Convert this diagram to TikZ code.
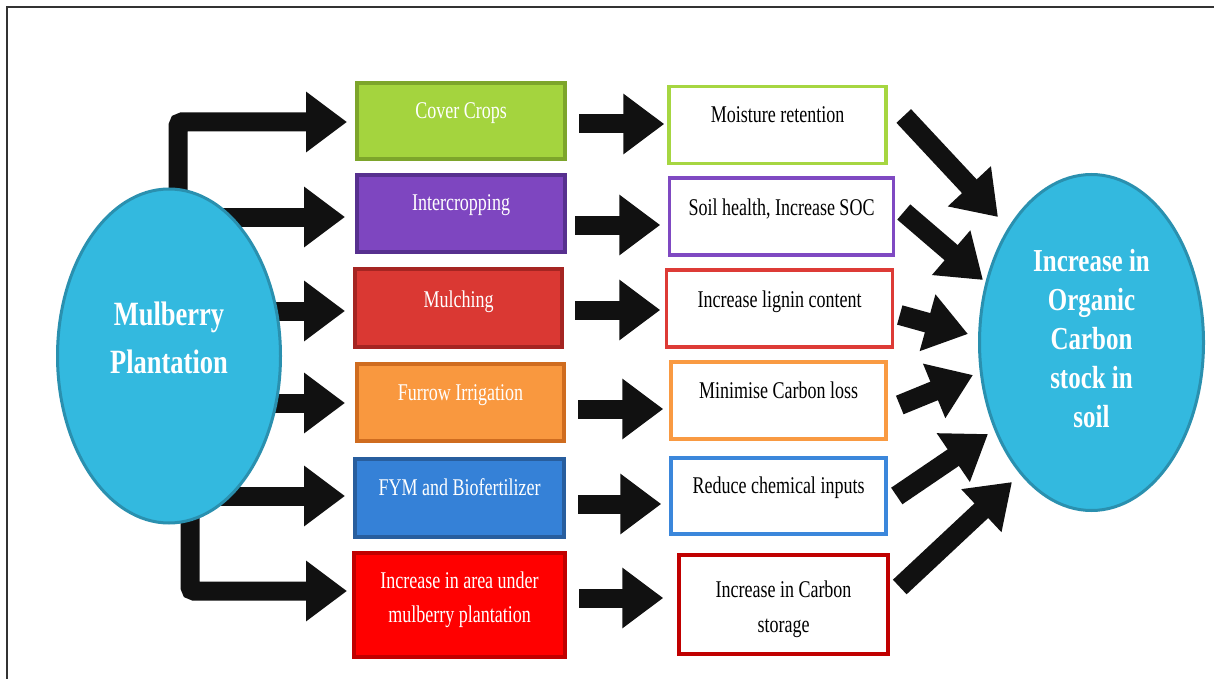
\documentclass[tikz,border=0pt]{standalone}
\usepackage{fontspec}
\newfontfamily\tnr[FakeStretch=0.75]{Liberation Serif}
\newfontfamily\tnrb[FakeStretch=0.78]{Liberation Serif}
\usetikzlibrary{arrows.meta,calc,shapes.geometric}
\pgfdeclarelayer{back}
\pgfdeclarelayer{bg}
\pgfsetlayers{back,bg,main}
\definecolor{ellf}{HTML}{33B9DF}
\definecolor{elld}{HTML}{2A90AF}
\definecolor{cAf}{HTML}{A4D43E}\definecolor{cAd}{HTML}{7DA52B}
\definecolor{cBf}{HTML}{7E46C0}\definecolor{cBd}{HTML}{57308F}
\definecolor{cCf}{HTML}{DA3833}\definecolor{cCd}{HTML}{A52522}
\definecolor{cDf}{HTML}{F9983F}\definecolor{cDd}{HTML}{CF6C1F}
\definecolor{cEf}{HTML}{3581D7}\definecolor{cEd}{HTML}{285E9E}
\definecolor{cFf}{HTML}{FF0000}\definecolor{cFd}{HTML}{C00000}
\definecolor{mA}{HTML}{A6D641}
\definecolor{mB}{HTML}{7F49C2}
\definecolor{mC}{HTML}{DD3B36}
\definecolor{mD}{HTML}{F99A42}
\definecolor{mE}{HTML}{3B87DB}
\definecolor{mF}{HTML}{C00000}
\definecolor{arr}{HTML}{111111}
\definecolor{framec}{HTML}{333333}
\begin{document}
\begin{tikzpicture}[x=1pt,y=-1pt,
  fbox/.style={rectangle, line width=4pt, inner sep=0pt},
  obox/.style={rectangle, line width=3.5pt, inner sep=0pt, fill=white},
  ell/.style={ellipse, fill=ellf, draw=elld, line width=3pt, inner sep=0pt},
  txtone/.style={font=\tnr\fontsize{24}{34.5}\selectfont, text height=16pt, text depth=5pt, inner sep=0pt, anchor=center},
  txttwo/.style={font=\tnr\fontsize{24}{34.5}\selectfont, align=center, inner sep=0pt, anchor=center},
  barrow/.style={draw=arr, line width=19pt, -{Triangle[length=41pt,width=58pt]}},
  darrow/.style={draw=arr, line width=20pt, -{Triangle[length=42pt,width=56pt]}}
]
\useasboundingbox (0,0) rectangle (1214,679);
\begin{pgfonlayer}{back}
\fill[white] (0,0) rectangle (1214,679);
\end{pgfonlayer}
\draw[framec, line width=1.5pt] (7,679) -- (7,7) -- (1214,7);

% ellipses
\node[ell, minimum width=223pt, minimum height=334pt,
  label={[font=\tnrb\bfseries\fontsize{34}{48}\selectfont, text=white, align=center, anchor=center, yshift=18pt]center:{Mulberry\\Plantation}}] (mp) at (169,356) {};
\node[ell, minimum width=224pt, minimum height=336pt,
  label={[font=\tnrb\bfseries\fontsize{32}{39}\selectfont, text=white, align=center, anchor=center, yshift=4pt]center:{Increase in\\Organic\\Carbon\\stock in\\soil}}] (oc) at (1091.5,342.5) {};

% practice boxes
\node[fbox, fill=cAf, draw=cAd, minimum width=208pt, minimum height=76pt,
  label={[txtone, text=white, yshift=8pt]center:{Cover Crops}}] (c1) at (461,121.5) {};
\node[fbox, fill=cBf, draw=cBd, minimum width=208pt, minimum height=76pt,
  label={[txtone, text=white, yshift=9pt]center:{Intercropping}}] (c2) at (461,213.5) {};
\node[fbox, fill=cCf, draw=cCd, minimum width=207pt, minimum height=78pt,
  label={[txtone, text=white, yshift=6.5pt]center:{Mulching}}] (c3) at (458.5,308) {};
\node[fbox, fill=cDf, draw=cDd, minimum width=207pt, minimum height=77pt,
  label={[txtone, text=white, yshift=7.5pt]center:{Furrow Irrigation}}] (c4) at (460.5,402) {};
\node[fbox, fill=cEf, draw=cEd, minimum width=209pt, minimum height=78pt,
  label={[txtone, text=white, yshift=8.5pt]center:{FYM and Biofertilizer}}] (c5) at (459.5,498) {};
\node[fbox, fill=cFf, draw=cFd, minimum width=211pt, minimum height=104pt,
  label={[txttwo, text=white, yshift=4.5pt]center:{Increase in area under\\mulberry plantation}}] (c6) at (459.5,604.5) {};

% effect boxes
\node[obox, draw=mA, minimum width=217pt, minimum height=77pt,
  label={[txtone, text=black, yshift=7.5pt]center:{Moisture retention}}] (m1) at (777.5,125) {};
\node[obox, draw=mB, minimum width=224pt, minimum height=77pt,
  label={[txtone, text=black, yshift=7pt]center:{Soil health, Increase SOC}}] (m2) at (781.5,216.5) {};
\node[obox, draw=mC, minimum width=226pt, minimum height=77pt,
  label={[txtone, text=black, yshift=7pt]center:{Increase lignin content}}] (m3) at (779.5,308.5) {};
\node[obox, draw=mD, minimum width=215pt, minimum height=77pt,
  label={[txtone, text=black, yshift=8pt]center:{Minimise Carbon loss}}] (m4) at (778.5,400.5) {};
\node[obox, draw=mE, minimum width=215pt, minimum height=76pt,
  label={[txtone, text=black, yshift=8.5pt]center:{Reduce chemical inputs}}] (m5) at (778.5,496) {};
\node[obox, draw=mF, minimum width=209pt, minimum height=99pt,
  label={[txttwo, text=black, yshift=-5pt]center:{Increase in Carbon\\storage}}] (m6) at (783.5,604.5) {};

\begin{pgfonlayer}{bg}
% from Mulberry Plantation
\draw[barrow, rounded corners=4pt] ([xshift=9pt]mp.center) |- ($(c1.west)+(-8pt,-0.5pt)$);
\draw[barrow] ([yshift=-3.5pt]c2.west -| mp.center) -- ($(c2.west)+(-10pt,-3.5pt)$);
\draw[barrow] ([yshift=-3pt]c3.west -| mp.center) -- ($(c3.west)+(-8pt,-3pt)$);
\draw[barrow] ([yshift=-1pt]c4.west -| mp.center) -- ($(c4.west)+(-10pt,-1pt)$);
\draw[barrow] ([yshift=2pt]c5.west -| mp.center) -- ($(c5.west)+(-8pt,2pt)$);
\draw[barrow, rounded corners=4pt] ([xshift=21pt]mp.center) |- ($(c6.west)+(-5pt,13.5pt)$);
\end{pgfonlayer}

% practice -> effect
\draw[barrow] ($(c1.east)+(12pt,-2.5pt)$) -- ($(m1.west)+(-3pt,1pt)$);
\draw[barrow] ($(c2.east)+(8pt,-11.5pt)$) -- ($(m2.west)+(-7.5pt,-8.5pt)$);
\draw[barrow] ($(c3.east)+(11pt,-2pt)$) -- ($(m3.west)+(-4.5pt,-1.5pt)$);
\draw[barrow] ($(c4.east)+(12pt,-7pt)$) -- ($(m4.west)+(-6pt,-8.5pt)$);
\draw[barrow] ($(c5.east)+(12pt,-6pt)$) -- ($(m5.west)+(-8pt,-8pt)$);
\draw[barrow] ($(c6.east)+(12pt,6.5pt)$) -- ($(m6.west)+(-14pt,6.5pt)$);

% effect -> organic carbon
\draw[darrow] ($(m1.east)+(16pt,9pt)$) -- ($(oc.center)+(-93.5pt,125.5pt)$);
\draw[darrow] ($(m2.east)+(8.5pt,4.5pt)$) -- ($(oc.center)+(-108.5pt,62.5pt)$);
\draw[darrow] ($(m3.east)+(5.5pt,-6.5pt)$) -- ($(oc.center)+(-123.5pt,8.5pt)$);
\draw[darrow] ($(m4.east)+(12pt,-4.5pt)$) -- ($(oc.center)+(-118.5pt,-32.5pt)$);
\draw[darrow] ($(m5.east)+(9pt,0pt)$) -- ($(oc.center)+(-103.5pt,-91.5pt)$);
\draw[darrow] ($(m6.east)+(10pt,17.5pt)$) -- ($(oc.center)+(-79.5pt,-139.5pt)$);
\end{tikzpicture}
\end{document}
